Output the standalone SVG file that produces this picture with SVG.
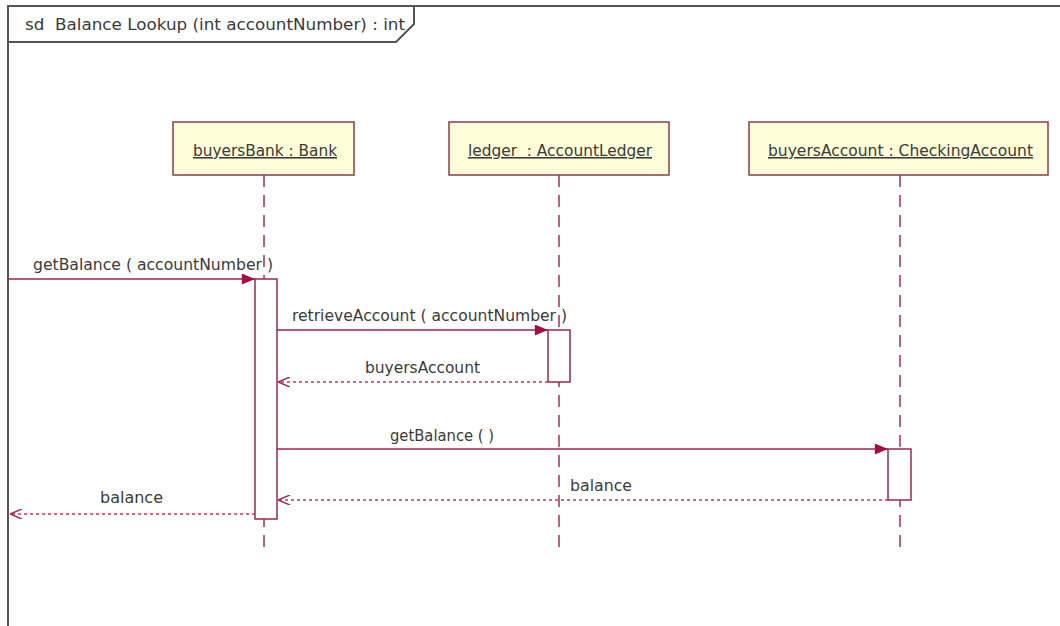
<svg xmlns="http://www.w3.org/2000/svg" width="1060" height="626" viewBox="0 0 1060 626">
<defs>
<style>
.frame{fill:none;stroke:#555;stroke-width:2}
.txt{font-family:"DejaVu Sans",Verdana,sans-serif;font-size:15.5px;fill:#3a3a3a;white-space:pre}
.box{fill:#fdfdd8;stroke:#8a3c4c;stroke-width:1.5}
.life{stroke:#a0305a;stroke-width:1.5;stroke-dasharray:12 8;fill:none}
.act{fill:#fff;stroke:#9a2a4c;stroke-width:1.5}
.msg{stroke:#a0224a;stroke-width:1.5;fill:none}
.ret{stroke:#c03a60;stroke-width:1.5;stroke-dasharray:3 3;fill:none}
</style>
<marker id="filled" viewBox="0 0 12 10" refX="12" refY="5" markerWidth="14" markerHeight="11" markerUnits="userSpaceOnUse" orient="auto">
<path d="M0,0 L12,5 L0,10 Z" fill="#a01040"/>
</marker>
<marker id="open" viewBox="0 0 12 10" refX="12" refY="5" markerWidth="12" markerHeight="10" markerUnits="userSpaceOnUse" orient="auto">
<path d="M0,0 L12,5 L0,10" fill="none" stroke="#a02a50" stroke-width="1.5"/>
</marker>
</defs>
<rect width="1060" height="626" fill="#fff"/>
<g id="frame">
<path class="frame" d="M8,626 V6 H1062"/>
<path class="frame" d="M8,42 H396 L414,24 V6"/>
<text class="txt" x="25" y="30" textLength="380" lengthAdjust="spacingAndGlyphs">sd  Balance Lookup (int accountNumber) : int</text>
</g>
<g id="buyersBank">
<rect class="box" x="173" y="122" width="181" height="53"/>
<text class="txt" x="193" y="156" textLength="144" lengthAdjust="spacingAndGlyphs" text-decoration="underline">buyersBank : Bank</text>
<line class="life" x1="264" y1="175" x2="264" y2="555"/>
<rect class="act" x="255" y="279" width="22" height="240"/>
</g>
<g id="ledger">
<rect class="box" x="449" y="122" width="220" height="53"/>
<text class="txt" x="468" y="156" textLength="184" lengthAdjust="spacingAndGlyphs" text-decoration="underline">ledger  : AccountLedger</text>
<line class="life" x1="559" y1="175" x2="559" y2="555"/>
<rect class="act" x="548" y="330" width="22" height="52"/>
</g>
<g id="buyersAccount">
<rect class="box" x="749" y="122" width="299" height="53"/>
<text class="txt" x="768" y="156" textLength="265" lengthAdjust="spacingAndGlyphs" text-decoration="underline">buyersAccount : CheckingAccount</text>
<line class="life" x1="900" y1="175" x2="900" y2="555"/>
<rect class="act" x="888" y="449" width="23" height="51"/>
</g>
<g id="connectors">
<line class="msg" x1="8" y1="279" x2="255" y2="279" marker-end="url(#filled)"/>
<text class="txt" x="33" y="270" textLength="240" lengthAdjust="spacingAndGlyphs">getBalance ( accountNumber )</text>
<line class="msg" x1="277" y1="330" x2="548" y2="330" marker-end="url(#filled)"/>
<text class="txt" x="292" y="321" textLength="275" lengthAdjust="spacingAndGlyphs">retrieveAccount ( accountNumber )</text>
<line class="ret" x1="548" y1="382" x2="278" y2="382" marker-end="url(#open)"/>
<text class="txt" x="365" y="373" textLength="115" lengthAdjust="spacingAndGlyphs">buyersAccount</text>
<line class="msg" x1="277" y1="449" x2="888" y2="449" marker-end="url(#filled)"/>
<text class="txt" x="390" y="441" textLength="104" lengthAdjust="spacingAndGlyphs">getBalance ( )</text>
<line class="ret" x1="888" y1="500" x2="278" y2="500" marker-end="url(#open)"/>
<text class="txt" x="570" y="491" textLength="62" lengthAdjust="spacingAndGlyphs">balance</text>
<line class="ret" x1="255" y1="514" x2="10" y2="514" marker-end="url(#open)"/>
<text class="txt" x="100" y="503" textLength="63" lengthAdjust="spacingAndGlyphs">balance</text>
</g>
</svg>
